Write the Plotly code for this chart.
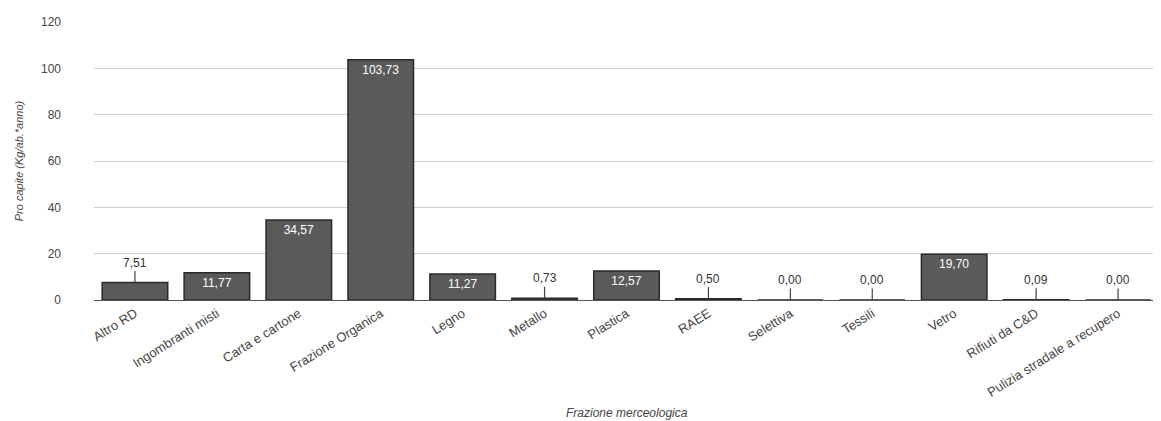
import plotly.graph_objects as go

categories = ["Altro RD", "Ingombranti misti", "Carta e cartone", "Frazione Organica",
              "Legno", "Metallo", "Plastica", "RAEE", "Selettiva", "Tessili",
              "Vetro", "Rifiuti da C&D", "Pulizia stradale a recupero"]
values = [7.51, 11.77, 34.57, 103.73, 11.27, 0.73, 12.57, 0.50, 0.00, 0.00, 19.70, 0.09, 0.00]
labels = [f"{v:.2f}".replace(".", ",") for v in values]
inside = [v >= 10 for v in values]

FONT = "Liberation Sans"

fig = go.Figure()
fig.add_trace(go.Bar(
    x=categories, y=values,
    text=[l if i else "" for l, i in zip(labels, inside)],
    texttemplate="%{text}",
    textposition="inside",
    insidetextanchor="end",
    textangle=0,
    insidetextfont=dict(color="white", size=12, family=FONT),
    marker=dict(color="#5a5a5a", line=dict(color="#2a2a2a", width=1.5)),
    cliponaxis=False,
))

for c, v, l, i in zip(categories, values, labels, inside):
    if not i:
        fig.add_annotation(x=c, y=v, text=l, showarrow=True, arrowhead=0,
                           arrowwidth=1.2, arrowcolor="#444", ax=0, ay=-20,
                           font=dict(size=12, color="#333", family=FONT))

fig.add_annotation(x=0.5, y=0, xref="paper", yref="paper", yshift=-104,
                   text="<i>Frazione merceologica</i>", showarrow=False,
                   yanchor="top", font=dict(size=12, color="#444", family=FONT))

fig.update_layout(
    width=1153, height=413,
    margin=dict(l=86, r=2, t=14, b=121),
    paper_bgcolor="white", plot_bgcolor="white",
    bargap=0.2,
    showlegend=False,
    font=dict(family=FONT, size=11, color="#444"),
    xaxis=dict(
        tickangle=-32, tickfont=dict(size=13, color="#444"),
        showline=True, linecolor="#555", linewidth=1,
        automargin=False,
    ),
    yaxis=dict(
        range=[0, 120], dtick=20,
        showgrid=True, gridcolor="#cfcfcf", gridwidth=1,
        zeroline=False,
        tickfont=dict(size=12, color="#444"),
        ticklabelstandoff=32,
        automargin=False,
        title=dict(text="<i>Pro capite (Kg/ab.*anno)</i>", font=dict(size=11, color="#444")),
    ),
)

fig.write_html("out.html")
